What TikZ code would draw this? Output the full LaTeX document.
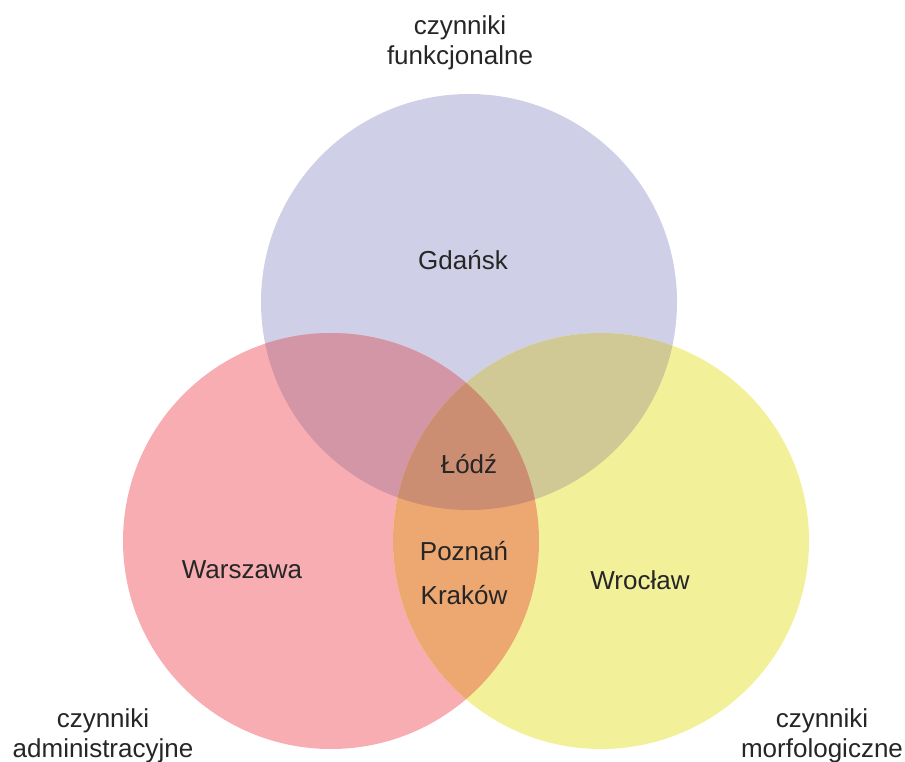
\documentclass[tikz,border=0pt]{standalone}
\usepackage{fontspec}
\setmainfont{Liberation Sans}
\usetikzlibrary{positioning}
\definecolor{funcColour}{HTML}{D0CFE8}
\definecolor{adminColour}{HTML}{F7ADB1}
\definecolor{morphColour}{HTML}{F3F09A}
\definecolor{funcAdminColour}{HTML}{D396A7}
\definecolor{funcMorphColour}{HTML}{D0C996}
\definecolor{adminMorphColour}{HTML}{EDA771}
\definecolor{allColour}{HTML}{CC8E72}
\definecolor{textColour}{HTML}{262626}
\newcommand{\funcSet}{(funcCentre) circle[radius=\radius]}
\newcommand{\adminSet}{(adminCentre) circle[radius=\radius]}
\newcommand{\morphSet}{(morphCentre) circle[radius=\radius]}

\begin{document}
\begin{tikzpicture}[%%
  x=0.75pt,y=-0.75pt,
  setStyle/.style={draw=none,fill=#1},%%
  cityStyle/.style={text=textColour,font=\fontsize{19.5}{22.5}\selectfont,inner sep=0pt},%%
  groupStyle/.style={cityStyle,align=center}
]
%%
\useasboundingbox (0,0) rectangle (905,762);
%%
\pgfmathsetmacro{\radius}{208}
\coordinate (funcCentre) at (469,302);
\coordinate (adminCentre) at (331,541);
\coordinate (morphCentre) at (601,541);
%%
%% Draw the three sets.
\fill[setStyle=funcColour] \funcSet;
\fill[setStyle=adminColour] \adminSet;
\fill[setStyle=morphColour] \morphSet;
%%
%% Draw the overlaps.
\begin{scope}
  \clip \funcSet;
  \fill[setStyle=funcAdminColour] \adminSet;
  \fill[setStyle=funcMorphColour] \morphSet;
\end{scope}
\begin{scope}
  \clip \adminSet;
  \fill[setStyle=adminMorphColour] \morphSet;
  \clip \morphSet;
  \fill[setStyle=allColour] \funcSet;
\end{scope}
%%
%% Label the cities.
\node[cityStyle] (gdansk) at (463,260) {Gdańsk};
\node[cityStyle] (lodz) at (469,464) {Łódź};
\node[cityStyle] (poznan) at (464,551) {Poznań};
\node[cityStyle] (krakow) at (464,595) {Kraków};
\node[cityStyle] (warszawa) at (242,570) {Warszawa};
\node[cityStyle] (wroclaw) at (640,580) {Wrocław};
%%
%% Label the sets.
\node[groupStyle] (funcLabel) at (460,43) {czynniki\\funkcjonalne};
\node[groupStyle] (adminLabel) at (103,736) {czynniki\\administracyjne};
\node[groupStyle] (morphLabel) at (822,736) {czynniki\\morfologiczne};

\end{tikzpicture}
\end{document}
